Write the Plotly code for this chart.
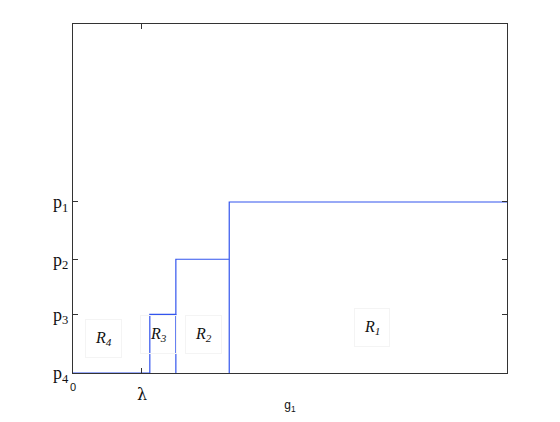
import plotly.graph_objects as go

# step levels (y) and break points (x)
p_labels = ["p<sub>1</sub>", "p<sub>2</sub>", "p<sub>3</sub>", "p<sub>4</sub>"]
p_values = [0.49, 0.326, 0.168, 0.0]
breaks = [17.7, 23.7, 36.0]
lam = 15.8
x_max = 100
region_names = ["R<sub>1</sub>", "R<sub>2</sub>", "R<sub>3</sub>", "R<sub>4</sub>"]
region_x = [69, 30.0, 19.8, 7.0]
region_y = [0.13, 0.11, 0.11, 0.1]

p1, p2, p3, p4 = p_values
b3, b2, b1 = breaks

# staircase plus vertical drops to the axis
xs = [0, b3, b3, b2, b2, b1, b1, x_max, None, b2, b2, None, b1, b1]
ys = [p4, p4, p3, p3, p2, p2, p1, p1, None, p4, p3, None, p4, p2]

fig = go.Figure()
fig.add_trace(go.Scatter(x=xs, y=ys, mode="lines",
                         line=dict(color="#3355ee", width=1.2),
                         showlegend=False, hoverinfo="skip"))

for name, rx, ry in zip(region_names, region_x, region_y):
    fig.add_annotation(x=rx, y=ry, text=f"<i>{name}</i>", showarrow=False,
                       font=dict(family="Liberation Serif", size=16, color="#111"),
                       bordercolor="#f4f4f4", borderwidth=1, borderpad=9)

# lambda sits lower than the 0 label
fig.add_annotation(x=lam, y=0, yref="paper", yanchor="top", yshift=-10,
                   text="λ", showarrow=False,
                   font=dict(family="DejaVu Serif", size=16, color="#111"))

fig.update_xaxes(range=[0, x_max], tickvals=[0, lam], ticktext=["0", ""],
                 showline=True, linecolor="#333", linewidth=1, mirror="ticks",
                 ticks="inside", ticklen=5, tickcolor="#333", showgrid=False,
                 zeroline=False, ticklabelstandoff=4,
                 tickfont=dict(family="Liberation Sans", size=11, color="#111"),
                 title=dict(text="g<sub>1</sub>", standoff=8,
                            font=dict(family="Liberation Sans", size=12, color="#111")))
fig.update_yaxes(range=[0, 1], tickvals=p_values, ticktext=p_labels,
                 showline=True, linecolor="#333", linewidth=1, mirror="ticks",
                 ticks="inside", ticklen=5, tickcolor="#333", showgrid=False,
                 zeroline=False,
                 tickfont=dict(family="Liberation Serif", size=18, color="#111"))

fig.update_layout(width=552, height=414, plot_bgcolor="white", paper_bgcolor="white",
                  margin=dict(l=65, r=53, t=16, b=49))
fig.write_html("out.html")
